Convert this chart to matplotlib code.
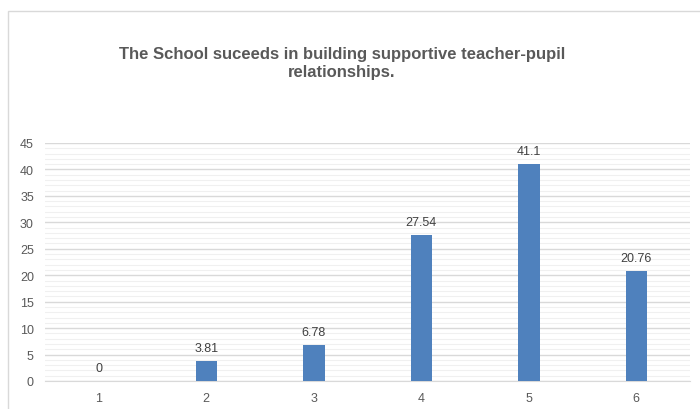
import matplotlib
matplotlib.use("Agg")
import matplotlib.pyplot as plt
from matplotlib.patches import Rectangle

categories = ["1", "2", "3", "4", "5", "6"]
values = [0, 3.81, 6.78, 27.54, 41.1, 20.76]
value_labels = ["0", "3.81", "6.78", "27.54", "41.1", "20.76"]
y_ticks = [0, 5, 10, 15, 20, 25, 30, 35, 40, 45]

title = "The School suceeds in building supportive teacher-pupil\nrelationships."

plt.rcParams['font.family'] = ['Liberation Sans', 'DejaVu Sans']

fig = plt.figure(figsize=(7.0, 4.1), dpi=100)
fig.patches.append(Rectangle((8 / 700, -0.1), 1.2, (410 - 12) / 410 + 0.1,
                             transform=fig.transFigure, fill=False,
                             edgecolor="#d9d9d9", linewidth=1))

ax = fig.add_axes([45 / 700, (410 - 382) / 410, (690 - 45) / 700, (382 - 144) / 410])
x = list(range(len(categories)))
ax.bar(x, values, width=0.2, color="#4F81BD", zorder=3)

for xi, v, lab in zip(x, values, value_labels):
    ax.annotate(lab, (xi, v), xytext=(0, 5), textcoords="offset points",
                ha="center", va="bottom", fontsize=9, color="#404040")

ax.set_xlim(-0.5, len(categories) - 0.5)
ax.set_ylim(0, 45)
ax.set_yticks(y_ticks)
ax.set_yticks(range(0, 46), minor=True)
ax.set_xticks(x)
ax.set_xticklabels(categories)
ax.tick_params(axis="both", which="both", length=0, labelsize=9, colors="#595959")
ax.tick_params(axis="x", pad=8)
ax.tick_params(axis="y", pad=8)
ax.grid(axis="y", which="major", color="#d9d9d9", linewidth=1, zorder=0)
ax.grid(axis="y", which="minor", color="#f0f0f0", linewidth=0.8, zorder=0)
for side in ["top", "right", "left"]:
    ax.spines[side].set_visible(False)
ax.spines["bottom"].set_color("#d9d9d9")

fig.text(342 / 700, 1 - 64 / 410, title, ha="center", va="center",
         fontsize=12, fontweight="bold", color="#595959", linespacing=1.25)

fig.savefig("out.png", dpi=100)
